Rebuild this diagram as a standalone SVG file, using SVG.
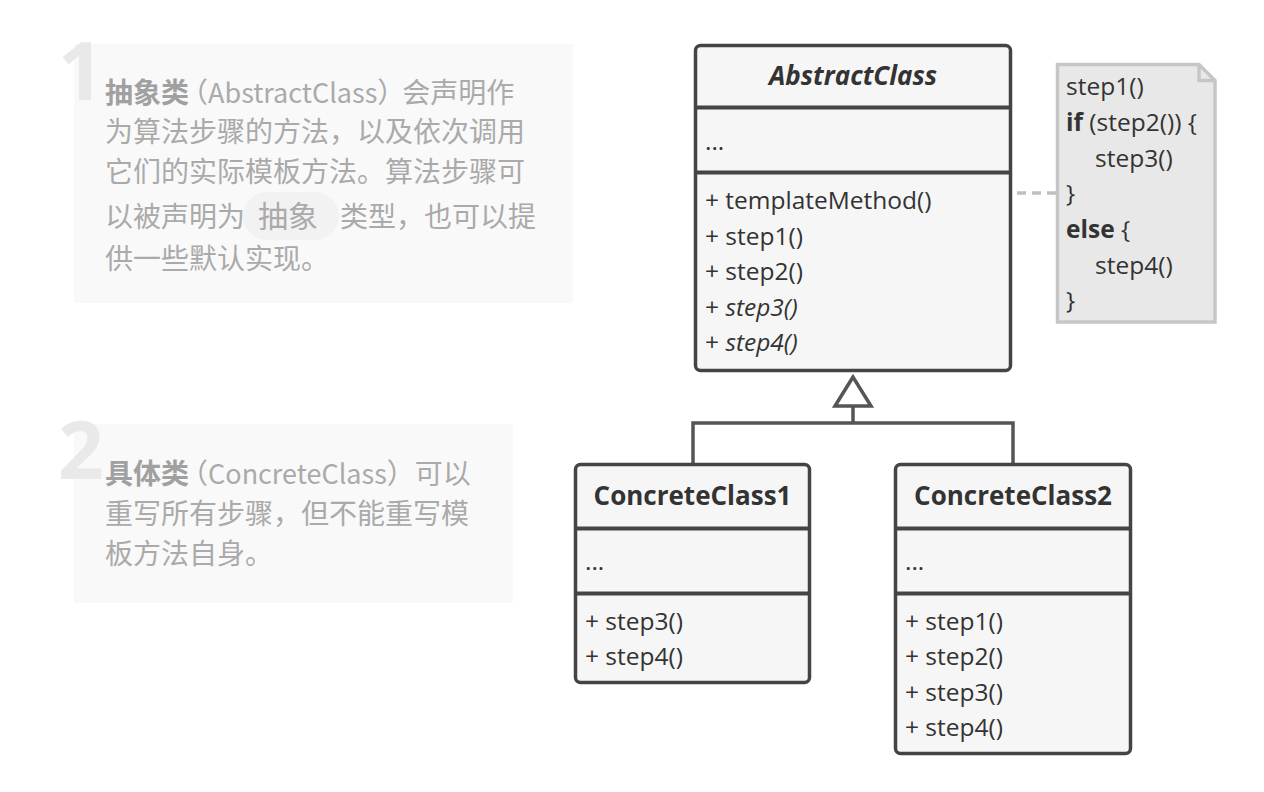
<svg xmlns="http://www.w3.org/2000/svg" width="1264" height="792" viewBox="0 0 1264 792">
<style>
.panel{fill:#f9f9f9}
.num{font-family:"Open Sans","DejaVu Sans",sans-serif;font-weight:700;font-size:80px;fill:#e9e9e9}
.cn{font-family:"Noto Sans CJK SC","Noto Sans",sans-serif;font-size:28px;fill:#aaaaaa}
.cnb{font-weight:700;fill:#a0a0a0}
.lat{font-size:27px}
.box{fill:#f6f6f6;stroke:#444;stroke-width:3.5}
.div{stroke:#444;stroke-width:4}
.t{font-family:"Open Sans","DejaVu Sans",sans-serif;font-size:24.5px;fill:#333}
.title{font-family:"Open Sans","DejaVu Sans",sans-serif;font-size:26px;font-weight:700;fill:#333}
.it{font-style:italic}
.b{font-weight:700}
.conn{fill:none;stroke:#555;stroke-width:3.5}
.note{fill:#e8e8e8;stroke:#c6c6c6;stroke-width:3.5}
</style>

<g id="panel1">
  <rect class="panel" x="74" y="44" width="499" height="259"/>
  <text class="num" x="58" y="100">1</text>
  <text class="cn" x="105" y="103"><tspan class="cnb">抽象</tspan><tspan class="cnb" letter-spacing="-9">类</tspan>（<tspan class="lat">AbstractClass</tspan><tspan letter-spacing="-3">）</tspan>会声明作</text>
  <text class="cn" x="105" y="142">为算法步骤的方法，以及依次调用</text>
  <text class="cn" x="105" y="182">它们的实际模板方法。算法步骤可</text>
  <rect x="243" y="192" width="96" height="48" rx="24" fill="#f2f2f2"/>
  <text class="cn" x="105" y="227">以被声明为<tspan x="258" font-size="30">抽象</tspan><tspan x="340">类型，也可以提</tspan></text>
  <text class="cn" x="105" y="269">供一些默认实现。</text>
</g>

<g id="panel2">
  <rect class="panel" x="74" y="424" width="439" height="179"/>
  <text class="num" x="58" y="479">2</text>
  <text class="cn" x="105" y="484"><tspan class="cnb">具体</tspan><tspan class="cnb" letter-spacing="-9">类</tspan>（<tspan class="lat">ConcreteClass</tspan>）可以</text>
  <text class="cn" x="105" y="524">重写所有步骤，但不能重写模</text>
  <text class="cn" x="105" y="564">板方法自身。</text>
</g>

<g id="connectors">
  <path class="conn" d="M693,463 V423 H1013 V463 M853,423 V406"/>
  <path class="conn" d="M853,377 L835,406 H871 Z" fill="#fff"/>
  <line x1="1017" y1="193" x2="1056" y2="193" stroke="#c0c0c0" stroke-width="3.5" stroke-dasharray="9,6"/>
</g>

<g id="AbstractClass">
  <rect class="box" x="695.5" y="45.5" width="315" height="325" rx="5"/>
  <line class="div" x1="695.5" y1="107.5" x2="1010.5" y2="107.5"/>
  <line class="div" x1="695.5" y1="172.5" x2="1010.5" y2="172.5"/>
  <text class="title it" x="853" y="85" text-anchor="middle">AbstractClass</text>
  <text class="t" x="705" y="150">...</text>
  <text class="t" x="705" y="209">+ templateMethod()</text>
  <text class="t" x="705" y="245">+ step1()</text>
  <text class="t" x="705" y="280">+ step2()</text>
  <text class="t" x="705" y="316">+ <tspan class="it">step3()</tspan></text>
  <text class="t" x="705" y="351">+ <tspan class="it">step4()</tspan></text>
</g>

<g id="note">
  <path class="note" d="M1057.5,64.5 H1199 L1215,80.5 V322 H1057.5 Z"/>
  <path d="M1199,64.5 V80.5 H1215" fill="none" stroke="#c6c6c6" stroke-width="3.5"/>
  <text class="t" x="1066" y="95">step1()</text>
  <text class="t" x="1066" y="131"><tspan class="b">if</tspan> (step2()) {</text>
  <text class="t" x="1095" y="167">step3()</text>
  <text class="t" x="1066" y="202">}</text>
  <text class="t" x="1066" y="238"><tspan class="b">else</tspan> {</text>
  <text class="t" x="1095" y="274">step4()</text>
  <text class="t" x="1066" y="309">}</text>
</g>

<g id="ConcreteClass1">
  <rect class="box" x="575.5" y="464.5" width="234" height="218" rx="5"/>
  <line class="div" x1="575.5" y1="528.5" x2="809.5" y2="528.5"/>
  <line class="div" x1="575.5" y1="593.5" x2="809.5" y2="593.5"/>
  <text class="title" x="692.5" y="505" text-anchor="middle">ConcreteClass1</text>
  <text class="t" x="585" y="570">...</text>
  <text class="t" x="585" y="630">+ step3()</text>
  <text class="t" x="585" y="665">+ step4()</text>
</g>

<g id="ConcreteClass2">
  <rect class="box" x="895.5" y="464.5" width="235" height="289" rx="5"/>
  <line class="div" x1="895.5" y1="528.5" x2="1130.5" y2="528.5"/>
  <line class="div" x1="895.5" y1="593.5" x2="1130.5" y2="593.5"/>
  <text class="title" x="1013" y="505" text-anchor="middle">ConcreteClass2</text>
  <text class="t" x="905" y="570">...</text>
  <text class="t" x="905" y="630">+ step1()</text>
  <text class="t" x="905" y="665">+ step2()</text>
  <text class="t" x="905" y="701">+ step3()</text>
  <text class="t" x="905" y="736">+ step4()</text>
</g>
</svg>
